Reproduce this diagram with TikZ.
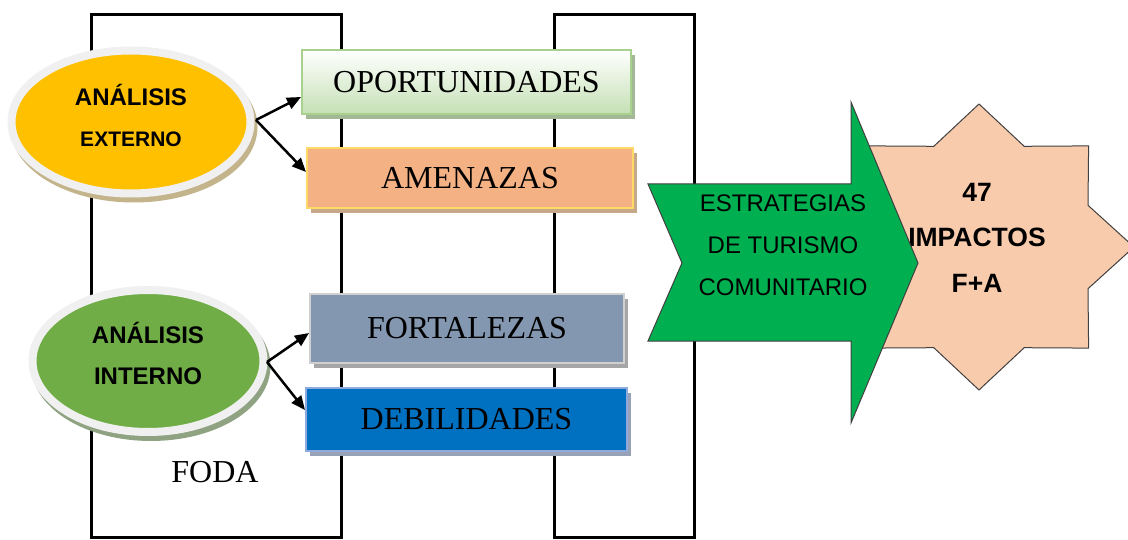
\documentclass[tikz,border=0pt]{standalone}
\usepackage{fontspec}
\setmainfont{Liberation Serif}
\newfontfamily\arialfont{Liberation Sans}
\usetikzlibrary{shapes.geometric,arrows.meta,shadows}

\definecolor{extyellow}{HTML}{FFC000}
\definecolor{intgreen}{HTML}{70AD47}
\definecolor{ringgray}{HTML}{F0F0F0}
\definecolor{exttan}{HTML}{C4B48C}
\definecolor{intshade}{HTML}{8FA383}
\definecolor{opogreen}{HTML}{C5E0B4}
\definecolor{opoline}{HTML}{A9D18E}
\definecolor{oposhade}{HTML}{A3B896}
\definecolor{amefill}{HTML}{F4B183}
\definecolor{ameline}{HTML}{FFD966}
\definecolor{ameshade}{HTML}{C4A888}
\definecolor{forfill}{HTML}{8497B0}
\definecolor{forline}{HTML}{D0D0D0}
\definecolor{debfill}{HTML}{0070C0}
\definecolor{debline}{HTML}{8FAADC}
\definecolor{debshade}{HTML}{98A2B6}
\definecolor{stratgreen}{HTML}{00B050}
\definecolor{starfill}{HTML}{F8CBAD}

\begin{document}
\begin{tikzpicture}[x=1pt,y=-1pt,
  frame/.style={line width=3pt},
  oval/.style={ellipse,draw=ringgray,line width=8pt,inner sep=0pt},
  ovaltext/.style={font=\arialfont\bfseries\fontsize{24}{41}\selectfont,align=center},
  swotbox/.style={rectangle,line width=2pt,inner sep=0pt,font=\fontsize{32}{36}\selectfont},
  boxshadow/.style={general shadow={shadow xshift=4pt,shadow yshift=-5pt,fill=#1}},
  fork/.style={line width=2.5pt,-{Triangle[length=14pt,width=12pt]}},
  shapetext/.style={font=\arialfont\fontsize{24}{42}\selectfont,align=center}]
\useasboundingbox (0,0) rectangle (1128,540);

\draw[frame] (91,537) -- (91,15) -- (341,15) -- (341,537) -- cycle;
\draw[frame] (554,537) -- (554,15) -- (694,15) -- (694,537) -- cycle;

\node[oval,fill=extyellow,minimum width=239pt,minimum height=143pt,
  general shadow={shadow xshift=3pt,shadow yshift=-5pt,fill=exttan,draw=exttan,line width=8pt}]
  (ext) at (131,122) {};
\node[ovaltext] (exttext) at (131,115) {ANÁLISIS\\{\fontsize{21}{41}\selectfont EXTERNO}};

\node[oval,fill=intgreen,minimum width=231pt,minimum height=142pt,
  general shadow={shadow xshift=3pt,shadow yshift=-5pt,fill=intshade,draw=intshade,line width=8pt}]
  (int) at (148,361) {};
\node[ovaltext] (inttext) at (148,353) {ANÁLISIS\\INTERNO};

\node[swotbox,boxshadow=oposhade,draw=opoline,top color=white,bottom color=opogreen,
  minimum width=329pt,minimum height=64pt] (opo) at (466.5,82) {OPORTUNIDADES};
\node[swotbox,boxshadow=ameshade,draw=ameline,fill=amefill,
  minimum width=326pt,minimum height=60pt] (ame) at (470,178) {AMENAZAS};
\node[swotbox,boxshadow=gray!70,draw=forline,fill=forfill,
  minimum width=314pt,minimum height=69pt] (fort) at (467,328.5) {FORTALEZAS};
\node[swotbox,boxshadow=debshade,draw=debline,fill=debfill,
  minimum width=321pt,minimum height=63pt] (deb) at (466.5,419.5) {DEBILIDADES};

\coordinate (extfork) at (256,120);
\coordinate (intfork) at (267,362);
\draw[fork] (extfork) -- ([yshift=-15pt]opo.west);
\draw[fork] (extfork) -- ([yshift=6pt]ame.west);
\draw[fork] (intfork) -- ([yshift=-4.5pt]fort.west);
\draw[fork] (intfork) -- ([yshift=9.5pt]deb.west);

\node[font=\fontsize{32}{36}\selectfont] (foda) at (215,472) {FODA};

\draw[fill=starfill,draw=black!75,line width=1pt]
  (1134,247) -- (1088,205.3) -- (1088.6,145.9) -- (1024.2,146.3) -- (979,104)
  -- (933.8,146.3) -- (869.4,145.9) -- (870,205.3) -- (824,247)
  -- (870,288.7) -- (869.4,348.1) -- (933.8,347.7) -- (979,390)
  -- (1024.2,347.7) -- (1088.6,348.1) -- (1088,288.7) -- cycle;
\node[shapetext,font=\arialfont\bfseries\fontsize{26.5}{45.5}\selectfont] (imptext) at (977,237.5) {47\\IMPACTOS\\F+A};

\draw[fill=stratgreen,draw=black!75,line width=1pt]
  (648,184) -- (851,184) -- (851,102) -- (918,263) -- (851,423)
  -- (851,341) -- (648,341) -- (682,263) -- cycle;
\node[shapetext] (stratext) at (783,245) {ESTRATEGIAS\\DE TURISMO\\COMUNITARIO};
\end{tikzpicture}
\end{document}
